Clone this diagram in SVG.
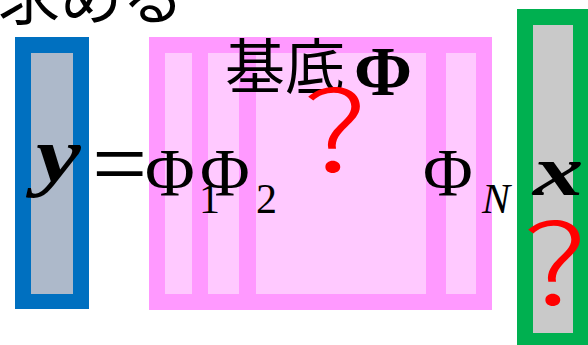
<svg xmlns="http://www.w3.org/2000/svg" width="588" height="345" viewBox="0 0 588 345">
<style>
.math{font-family:"Liberation Serif","Times New Roman",serif;fill:#000}
.bi{font-weight:bold;font-style:italic;font-size:72px}
.phi{font-size:68px}
.sub{font-size:42px}
.jp{font-family:"Noto Sans CJK JP","Noto Sans",sans-serif;fill:#000}
.q{font-family:"Noto Sans CJK JP","Noto Sans",sans-serif;font-weight:300;font-size:112px;fill:#FF0000;text-anchor:middle}
.pinkIn{fill:#FFC9FF}
</style>
<rect x="0" y="0" width="588" height="345" fill="#FFFFFF"/>
<text class="jp" x="-2" y="20" font-size="62">求める</text>
<g id="vec-y">
<rect x="15" y="37" width="74" height="272" fill="#0070C0"/>
<rect x="31" y="53" width="42" height="241" fill="#ADB9CA"/>
<text class="math bi" transform="translate(36,181) scale(1.4,1.1)">y</text>
</g>
<text class="math" x="92" y="196" font-size="98">=</text>
<g id="basis-phi">
<rect x="149" y="37" width="343" height="273" fill="#FF99FF"/>
<rect class="pinkIn" x="165" y="53" width="27" height="241"/>
<rect class="pinkIn" x="208" y="53" width="31" height="241"/>
<rect class="pinkIn" x="256" y="53" width="170" height="241"/>
<rect class="pinkIn" x="446" y="53" width="30" height="241"/>
<text class="jp" x="225" y="89" font-size="60">基底</text>
<text class="math" x="354" y="95" font-size="70" font-weight="bold">Φ</text>
<text class="q" transform="translate(335,172) scale(1.3,1)">?</text>
<text class="math phi" x="145" y="195">Φ</text>
<text class="math sub" x="199" y="213">1</text>
<text class="math phi" x="200" y="195">Φ</text>
<text class="math sub" x="256" y="213">2</text>
<text class="math phi" x="423" y="195">Φ</text>
<text class="math sub" x="482" y="213" font-style="italic">N</text>
</g>
<g id="vec-x">
<rect x="517" y="9" width="80" height="345" fill="#00B050"/>
<rect x="533" y="25" width="40" height="308" fill="#C9C9C9"/>
<text class="math bi" transform="translate(533,195) scale(1.4,1)">x</text>
<text class="q" transform="translate(555,305) scale(1.3,1)">?</text>
</g>
<g id="connectors"></g>
</svg>
